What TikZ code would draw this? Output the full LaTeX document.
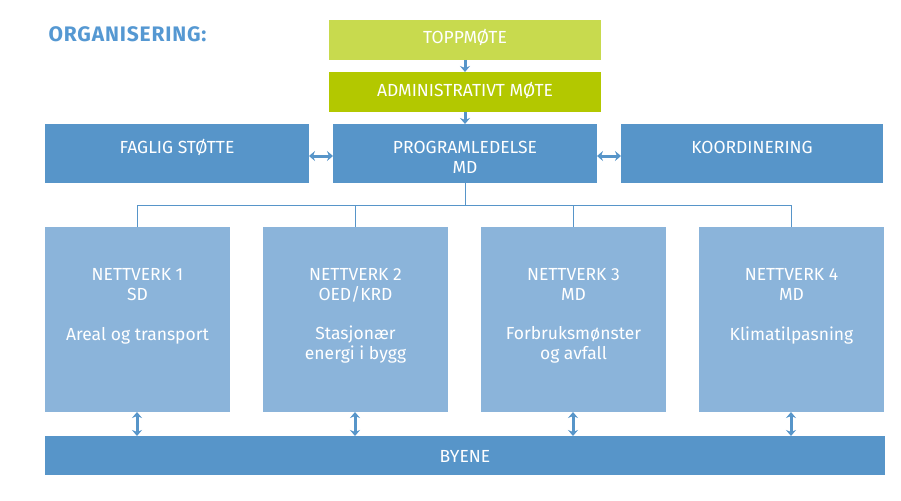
\documentclass[tikz,border=0pt]{standalone}
\usepackage{fontspec}
\setmainfont{Fira Sans}
\usetikzlibrary{arrows.meta}
\definecolor{lgreen}{HTML}{C8DA4E}
\definecolor{dgreen}{HTML}{B3C800}
\definecolor{mblue}{HTML}{5795C9}
\definecolor{lblue}{HTML}{8BB4DA}
\definecolor{tblue}{HTML}{5598D2}
\begin{document}
\begin{tikzpicture}[x=1pt,y=-1pt,
  box/.style={draw=none,inner sep=0pt,text=white,font=\fontsize{17.5}{19.5}\selectfont,align=center,anchor=base},
  arr/.style={draw=mblue,line width=3pt,-{Stealth[length=6pt,width=10pt]}},
  darr/.style={draw=mblue,line width=3pt,{Stealth[length=6pt,width=10pt]}-{Stealth[length=6pt,width=10pt]}},
  tree/.style={draw=mblue,line width=0.9pt}]
\useasboundingbox (0,0) rectangle (901,500);
\node[anchor=base west,text=tblue,font=\fontsize{21}{24}\selectfont\bfseries\addfontfeature{LetterSpace=4}] (title) at (45,42) {ORGANISERING:};
% boxes
\fill[lgreen] (329,20) rectangle (601,60);
\fill[dgreen] (329,72) rectangle (601,112);
\fill[mblue] (45,124) rectangle (309,183);
\fill[mblue] (333,124) rectangle (597,183);
\fill[mblue] (621,124) rectangle (883,183);
\coordinate (topB) at (465,60); \coordinate (admT) at (465,72);
\coordinate (admB) at (465,112); \coordinate (progT) at (465,124);
\draw[arr] (topB) -- (admT);
\draw[arr] (admB) -- (progT);
\node[box] (top) at (465,44) {TOPPMØTE};
\node[box] (adm) at (465,96) {ADMINISTRATIVT MØTE};
\node[box] (fag) at (177,153) {FAGLIG STØTTE};
\node[box] (prog) at (465,173) {PROGRAMLEDELSE\\[0.5pt]MD};
\node[box] (koord) at (752,153) {KOORDINERING};
\coordinate (fagR) at (309,156); \coordinate (progL) at (333,156);
\coordinate (progR) at (597,156); \coordinate (koordL) at (621,156);
\draw[darr] (fagR) -- (progL);
\draw[darr] (progR) -- (koordL);
% networks
\foreach \x/\n/\a/\b/\c/\cy in {45/n1/NETTVERK 1/SD/Areal og transport/340,
  263/n2/NETTVERK 2/OED\slash KRD/Stasjonær\\energi i bygg/359,
  481/n3/NETTVERK 3/MD/Forbruksmønster\\og avfall/359,
  699/n4/NETTVERK 4/MD/Klimatilpasning/340}{
  \fill[lblue] (\x,227) rectangle ++(185,185);
  \node[box] (\n) at (\x+92.5,300) {\a\\\b};
  \node[box] (\n d) at (\x+92.5,\cy) {\c};
  \coordinate (\n T) at (\x+92,227);
  \coordinate (\n B) at (\x+92,412);
  \coordinate (\n Y) at (\x+92,436);
}
\fill[mblue] (45,436) rectangle (885,475);
\node[box] (byene) at (465,462) {BYENE};
\coordinate (progB) at (465,183);
\coordinate (busL) at (137,205); \coordinate (busR) at (791,205);
\draw[tree] (progB) -- (465,205);
\draw[tree] (n1T) -- (busL) -- (busR) -- (n4T);
\draw[tree] (n2T) -- (n2T |- busL);
\draw[tree] (n3T) -- (n3T |- busL);
\foreach \n in {n1,n2,n3,n4}{\draw[darr] (\n B) -- (\n Y);}
\end{tikzpicture}
\end{document}
